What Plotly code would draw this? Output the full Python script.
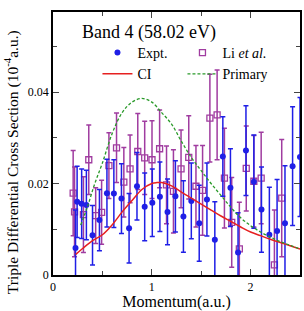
import plotly.graph_objects as go

# Experimental data (Expt.)
expt_x = [0.228, 0.244, 0.29, 0.338, 0.40, 0.47, 0.546, 0.616, 0.693, 0.77, 0.85, 0.928, 1.005,
          1.082, 1.159, 1.239, 1.32, 1.40, 1.48, 1.558, 1.638, 1.719, 1.796, 1.873, 1.953, 2.033,
          2.11, 2.19, 2.268, 2.348, 2.425, 2.50]
expt_y = [0.0059, 0.0160, 0.0156, 0.0153, 0.0087, 0.0120, 0.0179, 0.0178, 0.0167, 0.0102, 0.0194,
          0.0149, 0.0158, 0.0171, 0.0138, 0.0172, 0.0128, 0.0162, 0.0113, 0.0165, 0.0077, 0.0259,
          0.0191, 0.0049, 0.0272, 0.0204, 0.0143, 0.0088, 0.0096, 0.0113, 0.0238, 0.0258]
expt_err = [0.0083, 0.0078, 0.0076, 0.0076, 0.0065, 0.0067, 0.0074, 0.0074, 0.0076, 0.0076, 0.0074,
            0.0074, 0.0074, 0.0076, 0.0072, 0.0078, 0.0078, 0.0083, 0.0083, 0.0080, 0.0083, 0.0087,
            0.0085, 0.0087, 0.0098, 0.0102, 0.0093, 0.0104, 0.0113, 0.0126, 0.0130, 0.0130]

# Li et al. data
li_x = [0.204, 0.218, 0.308, 0.362, 0.432, 0.492, 0.566, 0.643, 0.717, 0.78, 0.858, 0.928, 1.002,
        1.079, 1.149, 1.219, 1.296, 1.374, 1.447, 1.514, 1.588, 1.661, 1.735, 1.809, 1.886, 1.956,
        2.033, 2.107, 2.241, 2.315]
li_y = [0.0179, 0.0138, 0.0132, 0.0252, 0.0130, 0.0137, 0.0239, 0.0278, 0.0203, 0.0232, 0.0270,
        0.0256, 0.0252, 0.0276, 0.0197, 0.0183, 0.0232, 0.0257, 0.0194, 0.0185, 0.0343, 0.0350,
        0.0212, 0.0115, 0.0057, 0.0233, 0.0205, 0.0212, 0.0022, 0.0168]
li_err = [0.0093, 0.0098, 0.0083, 0.0076, 0.0061, 0.0070, 0.0072, 0.0076, 0.0076, 0.0074, 0.0083,
          0.0080, 0.0085, 0.0085, 0.0085, 0.0091, 0.0085, 0.0091, 0.0089, 0.0098, 0.0096, 0.0098,
          0.0109, 0.0098, 0.0102, 0.0093, 0.0100, 0.0100, 0.0120, 0.0128]

# CI theory curve
ci_x = [0.23, 0.3, 0.4, 0.5, 0.6, 0.7, 0.8, 0.9, 1.0, 1.05, 1.1, 1.2, 1.3, 1.4, 1.5, 1.6, 1.7,
        1.8, 1.9, 2.0, 2.1, 2.2, 2.3, 2.4, 2.5]
ci_y = [0.0045, 0.0058, 0.0075, 0.0088, 0.0110, 0.0138, 0.0163, 0.0187, 0.0200, 0.0202, 0.0202,
        0.0195, 0.0181, 0.0168, 0.0155, 0.0142, 0.0129, 0.0117, 0.0105, 0.0094, 0.0086, 0.0078,
        0.0071, 0.0064, 0.0057]

# Primary theory curve
pri_x = [0.28, 0.35, 0.42, 0.5, 0.6, 0.7, 0.8, 0.9, 1.0, 1.1, 1.2, 1.3, 1.4, 1.5, 1.6, 1.7, 1.8,
         1.9, 2.0, 2.1, 2.2, 2.3, 2.4, 2.5]
pri_y = [0.0109, 0.0150, 0.0198, 0.0245, 0.0310, 0.0355, 0.0378, 0.0386, 0.0378, 0.0355, 0.0330,
         0.0292, 0.0257, 0.0228, 0.0200, 0.0174, 0.0148, 0.0125, 0.0108, 0.0094, 0.0083, 0.0073,
         0.0065, 0.0057]

BLUE = "#1f1fe6"
PURPLE = "#a03ca0"
RED = "#e62020"
GREEN = "#2a9a2a"
FONT = "Liberation Serif"

fig = go.Figure()
# Li et al. drawn first so that Expt. lies above it
fig.add_trace(go.Scatter(
    x=li_x, y=li_y, mode="markers", name="Li <i>et al.</i>", legendrank=2,
    marker=dict(symbol="square-open", size=6, color=PURPLE, line=dict(width=1.3, color=PURPLE)),
    error_y=dict(type="data", array=li_err, color=PURPLE, thickness=1.5, width=2.5),
))
fig.add_trace(go.Scatter(
    x=expt_x, y=expt_y, mode="markers", name="Expt.", legendrank=1,
    marker=dict(symbol="circle", size=6, color=BLUE),
    error_y=dict(type="data", array=expt_err, color=BLUE, thickness=1.5, width=2.5),
))
fig.add_trace(go.Scatter(
    x=ci_x, y=ci_y, mode="lines", name="CI", legendrank=3,
    line=dict(color=RED, width=1.5, shape="spline"),
))
fig.add_trace(go.Scatter(
    x=pri_x, y=pri_y, mode="lines", name="Primary", legendrank=4,
    line=dict(color=GREEN, width=1.3, dash="3px,2px", shape="spline"),
))

fig.update_layout(
    width=304, height=311,
    margin=dict(l=53, r=2, t=12, b=35),
    paper_bgcolor="white", plot_bgcolor="white",
    font=dict(family=FONT, color="black", size=12),
    showlegend=True,
    legend=dict(
        orientation="h", x=0.18, y=0.905, xanchor="left", yanchor="top",
        bgcolor="rgba(0,0,0,0)", font=dict(family=FONT, size=14),
        entrywidth=40, entrywidthmode="pixels", traceorder="normal",
        itemwidth=30, tracegroupgap=0,
    ),
    annotations=[
        dict(
            text="Band 4 (58.02 eV)", x=0.39, y=0.922, xref="paper", yref="paper",
            xanchor="center", yanchor="middle", showarrow=False,
            font=dict(family=FONT, size=18, color="black"),
        ),
        dict(
            text="Triple Differential Cross Section (10<sup>-4</sup>a.u.)",
            x=-0.165, y=0.43, xref="paper", yref="paper", textangle=-90,
            xanchor="center", yanchor="middle", showarrow=False,
            font=dict(family=FONT, size=15.5, color="black"),
        ),
    ],
)
fig.update_xaxes(
    range=[0, 2.5], dtick=1, tick0=0, ticks="inside", ticklen=6, tickwidth=1.2,
    showline=True, linewidth=1.5, linecolor="black", mirror="ticks",
    showgrid=False, zeroline=False,
    minor=dict(dtick=0.5, ticks="inside", ticklen=4, tickwidth=1.2, showgrid=False),
    tickfont=dict(family=FONT, size=12),
    title=dict(text="Momentum(a.u.)", font=dict(family=FONT, size=16), standoff=4),
)
fig.update_yaxes(
    range=[0, 0.0575], dtick=0.02, tick0=0, ticks="inside", ticklen=6, tickwidth=1.2,
    showline=True, linewidth=1.5, linecolor="black", mirror="ticks",
    showgrid=False, zeroline=False,
    minor=dict(dtick=0.01, ticks="inside", ticklen=4, tickwidth=1.2, showgrid=False),
    tickfont=dict(family=FONT, size=12),
)

fig.write_html("out.html")
